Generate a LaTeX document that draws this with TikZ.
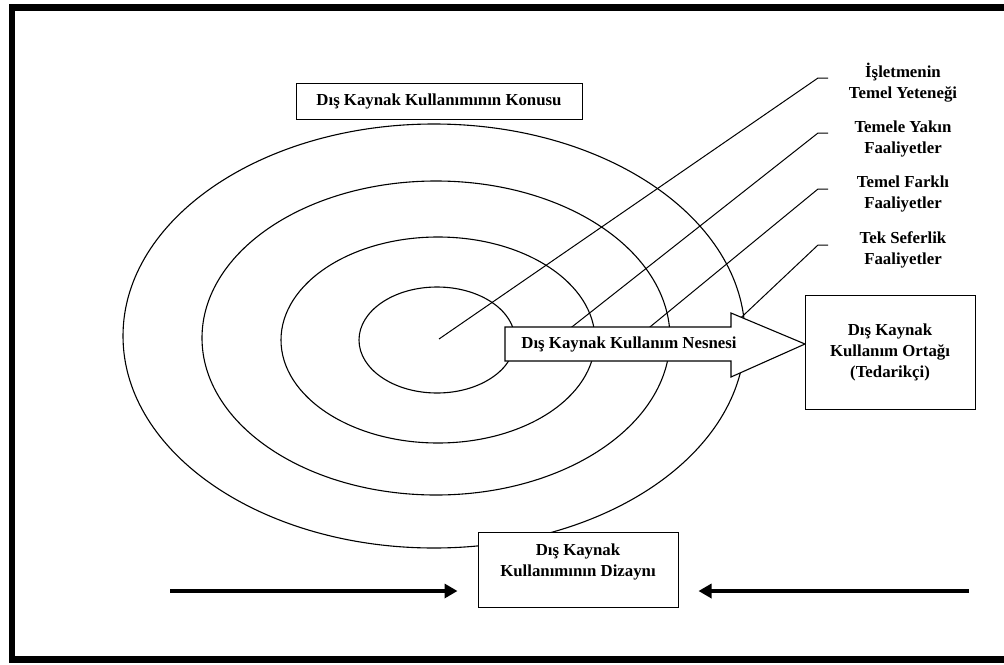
\documentclass[tikz,border=0pt]{standalone}
\usepackage{fontspec}
\setmainfont{Liberation Serif}
\usetikzlibrary{arrows.meta}
\newcommand\lblfnt{\fontsize{16.8}{21}\selectfont\bfseries}
\tikzset{
  ring/.style={draw=black, line width=1.1pt},
  pointer/.style={draw=black, line width=1pt},
  boxnode/.style={draw=black, line width=1pt, fill=white, inner sep=0pt, align=center, font=\lblfnt},
  lbl/.style={inner sep=0pt, align=center, font=\lblfnt},
  bigarrow/.style={line width=3.6pt, -{Triangle[length=13pt,width=14pt]}},
}
\begin{document}
\begin{tikzpicture}[x=1pt,y=-1pt]
\useasboundingbox (0,0) rectangle (1004,664);
% frame
\draw[line width=6.5pt] (1015,7.5) -- (12,7.5) -- (12,659.5) -- (1015,659.5);
% rings
\draw[ring] (434,336) ellipse [x radius=311, y radius=212];
\draw[ring] (436,338) ellipse [x radius=234, y radius=157];
\draw[ring] (438,340) ellipse [x radius=157, y radius=103];
\draw[ring] (437,340) ellipse [x radius=78, y radius=53];
% label nodes
\node[lbl] (l1) at (903,82.5) {İşletmenin\\Temel Yeteneği};
\node[lbl] (l2) at (903,138.5) {Temele Yakın\\Faaliyetler};
\node[lbl] (l3) at (903,193.5) {Temel Farklı\\Faaliyetler};
\node[lbl] (l4) at (903,249.5) {Tek Seferlik\\Faaliyetler};
% pointer coordinates
\coordinate (c1) at (439,339);
\coordinate (c2) at (549,345);
\coordinate (c3) at (628,345);
\coordinate (c4) at (712,345);
\coordinate (k1) at (818,78);  \coordinate (e1) at (828,78);
\coordinate (k2) at (818,133); \coordinate (e2) at (828,133);
\coordinate (k3) at (818,189); \coordinate (e3) at (828,189);
\coordinate (k4) at (818,245); \coordinate (e4) at (828,245);
\draw[pointer] (c1) -- (k1) -- (e1);
\draw[pointer] (c2) -- (k2) -- (e2);
\draw[pointer] (c3) -- (k3) -- (e3);
\draw[pointer] (c4) -- (k4) -- (e4);
% object arrow
\draw[line width=1.1pt, fill=white] (505,327) -- (731,327) -- (731,313) -- (805,344) -- (731,377) -- (731,361) -- (505,361) -- cycle;
\node[lbl] (obj) at (629,344) {Dış Kaynak Kullanım Nesnesi};
% boxes
\node[boxnode, minimum width=286, minimum height=36] (topic) at (439,101) {Dış Kaynak Kullanımının Konusu};
\node[boxnode, minimum width=170, minimum height=114] (partner) at (890,352) {Dış Kaynak\\Kullanım Ortağı\\(Tedarikçi)};
\node[boxnode, minimum width=200, minimum height=75] (design) at (578,569.5) {};
\node[lbl] (designtext) at (578,562) {Dış Kaynak\\Kullanımının Dizaynı};
% design arrows
\coordinate (la) at (170,591);
\coordinate (ra) at (969,591);
\draw[bigarrow, shorten >=20pt] (la) -- (la -| design.west);
\draw[bigarrow, shorten >=20pt] (ra) -- (ra -| design.east);
\end{tikzpicture}
\end{document}
